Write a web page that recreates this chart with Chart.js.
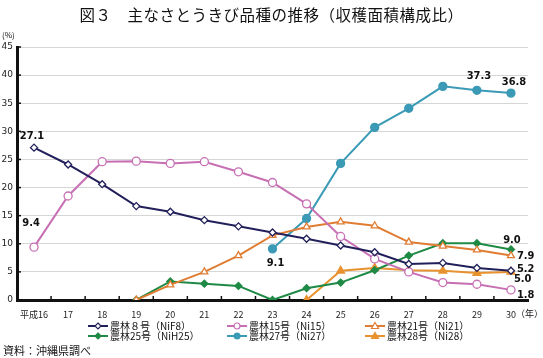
<!DOCTYPE html>
<html><head><meta charset="utf-8">
<script src="https://cdn.jsdelivr.net/npm/chart.js@4"></script>
<style>
html,body{margin:0;padding:0;background:#fff;}
#wrap{position:relative;width:543px;height:358px;overflow:hidden;font-family:"Noto Sans CJK JP","Noto Sans",sans-serif;color:#111;}
canvas{position:absolute;left:0;top:0;}
.t{position:absolute;white-space:nowrap;}
#title{left:0;width:543px;top:3px;text-align:center;font-size:15.5px;letter-spacing:0.5px;}
#pct{left:2px;top:29px;font-size:8px;}
#nen{left:516px;top:307px;font-size:9px;}
#src{left:3px;top:342px;font-size:11px;}
.lg{position:absolute;font-size:10px;line-height:10px;white-space:nowrap;display:flex;align-items:center;}
.lg svg{margin-right:2px;}
</style></head>
<body><div id="wrap">
<canvas id="c" width="543" height="358"></canvas>
<div class="t" id="title">図３　主なさとうきび品種の推移（収穫面積構成比）</div>
<div class="t" id="pct">(%)</div>
<div class="t" id="nen">（年）</div>
<div class="t" id="src">資料：沖縄県調べ</div>
<div id="legend"></div>
</div>
<script>
const categories = ['平成16','17','18','19','20','21','22','23','24','25','26','27','28','29','30'];
const yTicks = [0,5,10,15,20,25,30,35,40,45];
const seriesNames = ['農林８号（NiF8）','農林15号（Ni15）','農林21号（Ni21）','農林25号（NiH25）','農林27号（Ni27）','農林28号（Ni28）'];
const niF8  = [27.1,24.1,20.6,16.7,15.7,14.2,13.1,12.0,10.9,9.7,8.5,6.4,6.6,5.7,5.2];
const ni15  = [9.4,18.5,24.6,24.7,24.3,24.6,22.8,20.9,17.1,11.3,7.3,5.0,3.1,2.8,1.8];
const ni21  = [null,null,null,0,2.7,5.0,7.9,11.5,13.0,13.9,13.2,10.3,9.6,8.9,7.9];
const nih25 = [null,null,null,0,3.3,2.9,2.5,0,2.1,3.1,5.3,7.9,10.1,10.1,9.0];
const ni27  = [null,null,null,null,null,null,null,9.1,14.5,24.3,30.7,34.1,38.0,37.3,36.8];
const ni28  = [null,null,null,null,null,null,null,null,0,5.2,5.7,5.3,5.2,4.8,5.0];

const colors = ['#22205a','#c76fb3','#e07d33','#1f8a45','#3b9ab6','#e8922f'];
const styles = [
  {ps:'rectRot',fill:'#fff',r:3.5},
  {ps:'circle',fill:'#fff',r:4},
  {ps:'triangle',fill:'#fff',r:4},
  {ps:'rectRot',fill:null,r:3.5},
  {ps:'circle',fill:null,r:4},
  {ps:'triangle',fill:null,r:4.5}
];
const allData = [niF8,ni15,ni21,nih25,ni27,ni28];

const datasets = allData.map((d,i)=>({
  label: seriesNames[i],
  data: d,
  borderColor: colors[i],
  backgroundColor: styles[i].fill || colors[i],
  pointBackgroundColor: styles[i].fill || colors[i],
  pointBorderColor: colors[i],
  pointStyle: styles[i].ps,
  pointRadius: styles[i].r,
  pointBorderWidth: 1.3,
  borderWidth: 2,
  tension: 0,
  spanGaps: false
}));

// value labels: [series, index, dx, dy, align]
const valueLabels = [
  [0,0,-2,-11,'center'],
  [1,0,-3,-24,'center'],
  [4,7,3,14,'center'],
  [4,13,2,-14,'center'],
  [4,14,3,-11,'center'],
  [3,14,1,-9,'center'],
  [2,14,6,1,'left'],
  [0,14,6,-2,'left'],
  [5,14,3,7,'left'],
  [1,14,6,5,'left']
];

const decor = {
  id:'decor',
  beforeDatasetsDraw(chart){
    const ctx = chart.ctx, y = chart.scales.y, a = chart.chartArea;
    ctx.save();
    ctx.strokeStyle = '#111'; ctx.lineWidth = 1.5;
    yTicks.forEach(v=>{ const py = y.getPixelForValue(v); ctx.beginPath(); ctx.moveTo(a.left, py); ctx.lineTo(a.left+4, py); ctx.stroke(); });
    const step = (a.right-a.left)/categories.length;
    for(let i=1;i<categories.length;i++){ const px = a.left + step*i; ctx.beginPath(); ctx.moveTo(px,a.bottom); ctx.lineTo(px,a.bottom-4); ctx.stroke(); }
    ctx.restore();
  },
  afterDatasetsDraw(chart){
    const ctx = chart.ctx, x = chart.scales.x, y = chart.scales.y;
    ctx.save();
    ctx.font = 'bold 11px "Liberation Sans Narrow","DejaVu Sans Condensed",sans-serif';
    ctx.fillStyle = '#111';
    ctx.textBaseline = 'middle';
    valueLabels.forEach(([s,i,dx,dy,al])=>{
      const v = allData[s][i];
      const px = x.getPixelForValue(i), py = y.getPixelForValue(v);
      ctx.textAlign = al;
      ctx.fillText(v.toFixed(1), px+dx, py+dy);
    });
    ctx.restore();
  }
};

new Chart(document.getElementById('c'), {
  type:'line',
  data:{labels:categories, datasets},
  options:{
    responsive:false, animation:false, devicePixelRatio:1,
    layout:{padding:{left:0,right:15,top:47,bottom:0}},
    plugins:{legend:{display:false},tooltip:{enabled:false},title:{display:false}},
    scales:{
      x:{
        offset:true,
        grid:{display:false,drawTicks:false},
        border:{display:true,color:'#111',width:3},
        ticks:{color:'#222',font:{size:9,family:'"Noto Sans CJK JP","Noto Sans",sans-serif'},padding:9,maxRotation:0,autoSkip:false},
        afterFit(s){ s.height = 58; }
      },
      y:{
        min:0,max:45,
        afterBuildTicks(s){ s.ticks = yTicks.map(v=>({value:v})); },
        grid:{color:'#d6d6d6',lineWidth:1,drawTicks:false},
        border:{display:true,color:'#111',width:3},
        ticks:{color:'#222',font:{size:9,family:'"Liberation Sans Narrow","DejaVu Sans",sans-serif'},padding:4},
        afterFit(s){ s.width = 17; }
      }
    }
  },
  plugins:[decor]
});

// HTML legend
const pos = [[88,321],[227,321],[365,321],[88,331],[227,331],[365,331]];
const lg = document.getElementById('legend');
seriesNames.forEach((n,i)=>{
  const d = document.createElement('div');
  d.className='lg';
  d.style.left = pos[i][0]+'px'; d.style.top = pos[i][1]+'px';
  const c = colors[i], f = styles[i].fill || c;
  let m = '';
  if(styles[i].ps==='circle') m = `<circle cx="10" cy="5" r="3" fill="${f}" stroke="${c}" stroke-width="1.2"/>`;
  else if(styles[i].ps==='rectRot') m = `<polygon points="10,2 13,5 10,8 7,5" fill="${f}" stroke="${c}" stroke-width="1.2"/>`;
  else m = `<polygon points="10,1.5 13.5,7.5 6.5,7.5" fill="${f}" stroke="${c}" stroke-width="1.2"/>`;
  d.innerHTML = `<svg width="20" height="10"><line x1="0" y1="5" x2="20" y2="5" stroke="${c}" stroke-width="2"/>${m}</svg><span>${n}</span>`;
  lg.appendChild(d);
});
</script>
</body></html>
